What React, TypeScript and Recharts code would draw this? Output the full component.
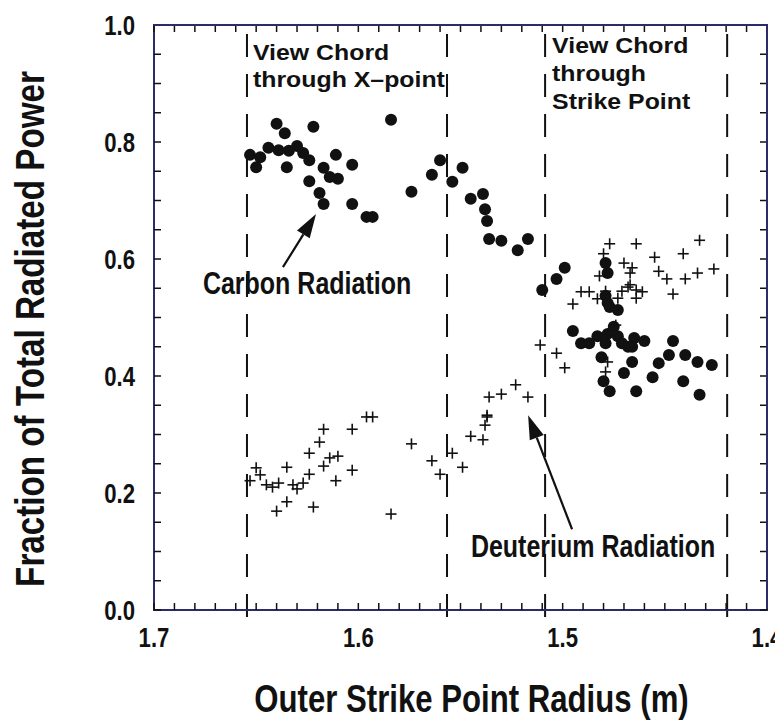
import {
  ScatterChart,
  Scatter,
  XAxis,
  YAxis,
  ReferenceLine,
  ReferenceArea,
  ReferenceDot,
  Label,
} from "recharts";

// outer strike point radius (m) / fraction of total radiated power
const carbonR = [
  1.653, 1.65, 1.648, 1.644, 1.64, 1.639, 1.636, 1.635, 1.634, 1.63, 1.627, 1.624, 1.622, 1.624, 1.619,
  1.617, 1.617, 1.614, 1.611, 1.61, 1.603, 1.603, 1.596, 1.593, 1.584, 1.574, 1.564, 1.56, 1.554, 1.549,
  1.545, 1.539, 1.538, 1.537, 1.536, 1.53, 1.522, 1.517, 1.51, 1.503, 1.499, 1.479, 1.478, 1.479, 1.478,
  1.477, 1.473, 1.495, 1.491, 1.487, 1.483, 1.479, 1.478, 1.475, 1.473, 1.471, 1.468, 1.465, 1.46, 1.466,
  1.481, 1.466, 1.47, 1.48, 1.477, 1.464, 1.453, 1.448, 1.446, 1.456, 1.44, 1.441, 1.434, 1.433, 1.427,
];
const carbonFrac = [
  0.778, 0.757, 0.774, 0.79, 0.831, 0.786, 0.815, 0.757, 0.785, 0.793, 0.781, 0.769, 0.826, 0.733, 0.713,
  0.756, 0.694, 0.74, 0.778, 0.737, 0.761, 0.694, 0.672, 0.672, 0.838, 0.715, 0.744, 0.769, 0.732, 0.756,
  0.703, 0.711, 0.685, 0.665, 0.634, 0.631, 0.615, 0.634, 0.547, 0.566, 0.585, 0.593, 0.576, 0.537, 0.525,
  0.518, 0.513, 0.477, 0.456, 0.456, 0.468, 0.456, 0.472, 0.484, 0.468, 0.456, 0.45, 0.465, 0.46, 0.45,
  0.432, 0.424, 0.405, 0.391, 0.374, 0.374, 0.422, 0.436, 0.46, 0.398, 0.436, 0.391, 0.424, 0.368, 0.419,
];
const deutR = [
  1.653, 1.65, 1.648, 1.645, 1.642, 1.639, 1.635, 1.64, 1.635, 1.632, 1.63, 1.627, 1.624, 1.624, 1.622,
  1.619, 1.617, 1.617, 1.614, 1.61, 1.611, 1.603, 1.603, 1.596, 1.593, 1.584, 1.574, 1.564, 1.56, 1.554,
  1.549, 1.545, 1.539, 1.538, 1.537, 1.537, 1.536, 1.53, 1.523, 1.517, 1.511, 1.503, 1.499, 1.478, 1.479,
  1.474, 1.477, 1.464, 1.433, 1.48, 1.455, 1.441, 1.47, 1.466, 1.453, 1.467, 1.482, 1.449, 1.44, 1.434,
  1.426, 1.491, 1.487, 1.479, 1.471, 1.468, 1.467, 1.464, 1.461, 1.483, 1.473, 1.464, 1.446, 1.495,
];
const deutFrac = [
  0.221, 0.243, 0.231, 0.214, 0.21, 0.217, 0.244, 0.169, 0.185, 0.214, 0.207, 0.217, 0.232, 0.268, 0.176,
  0.287, 0.246, 0.309, 0.26, 0.263, 0.221, 0.239, 0.309, 0.33, 0.33, 0.164, 0.284, 0.255, 0.232, 0.268,
  0.244, 0.297, 0.291, 0.316, 0.333, 0.33, 0.364, 0.369, 0.385, 0.364, 0.453, 0.439, 0.414, 0.424, 0.407,
  0.487, 0.626, 0.626, 0.632, 0.609, 0.603, 0.609, 0.593, 0.585, 0.579, 0.576, 0.571, 0.566, 0.566, 0.576,
  0.583, 0.544, 0.544, 0.545, 0.545, 0.552, 0.556, 0.547, 0.544, 0.532, 0.533, 0.533, 0.54, 0.523,
];

const xTicks = [
  1.4, 1.41, 1.42, 1.43, 1.44, 1.45, 1.46, 1.47, 1.48, 1.49, 1.5, 1.51, 1.52, 1.53, 1.54, 1.55,
  1.56, 1.57, 1.58, 1.59, 1.6, 1.61, 1.62, 1.63, 1.64, 1.65, 1.66, 1.67, 1.68, 1.69, 1.7,
];
const yTicks = [
  0, 0.05, 0.1, 0.15, 0.2, 0.25, 0.3, 0.35, 0.4, 0.45, 0.5, 0.55, 0.6, 0.65, 0.7, 0.75, 0.8, 0.85,
  0.9, 0.95, 1.0,
];
const xLabels = [1.4, 1.5, 1.6, 1.7];
const yLabels = [0, 0.2, 0.4, 0.6, 0.8, 1.0];

// view chord positions (m)
const chords = [1.6545, 1.5566, 1.5086, 1.4195];

const carbon = carbonR.map((r, i) => ({ r, frac: carbonFrac[i] }));
const deuterium = deutR.map((r, i) => ({ r, frac: deutFrac[i] }));

const FONT = "'Liberation Sans', Arial, Helvetica, sans-serif";
const INK = "#111";
const FRAME = "#2c2c6a";

const W = 775;
const H = 720;
const MARGIN = { top: 17, right: 16, left: 0, bottom: 0 };
const Y_AXIS_W = 146;
const X_AXIS_H = 118;
const PLOT_W = W - MARGIN.right - Y_AXIS_W;
const PLOT_H = H - MARGIN.top - X_AXIS_H;

const near = (a: number, b: number) => Math.abs(a - b) < 1e-6;
const findLabel = (list: number[], v: number) => list.find((t) => near(t, v));

// bold text squeezed/stretched horizontally (no condensed face installed)
function SText({
  x,
  y,
  size,
  sx = 0.82,
  anchor = "start",
  rotate = 0,
  children,
}: {
  x: number;
  y: number;
  size: number;
  sx?: number;
  anchor?: "start" | "middle" | "end";
  rotate?: number;
  children: any;
}) {
  return (
    <text
      transform={`translate(${x},${y}) rotate(${rotate}) scale(${sx},1)`}
      x={0}
      y={0}
      textAnchor={anchor}
      fontFamily={FONT}
      fontWeight="bold"
      fontSize={size}
      fill={INK}
    >
      {children}
    </text>
  );
}

// bottom tick plus its mirror on the top edge
const BottomTick = (p: any) => {
  const { x, y, payload } = p;
  const lab = findLabel(xLabels, payload.value);
  const top = y - PLOT_H;
  return (
    <g>
      <line x1={x} y1={y} x2={x} y2={y - 7} stroke={INK} strokeWidth={1.5} />
      <line x1={x} y1={top} x2={x} y2={top + 7} stroke={INK} strokeWidth={1.5} />
      {lab !== undefined && (
        <SText x={x} y={y + 37} size={27} anchor="middle">
          {lab.toFixed(1)}
        </SText>
      )}
    </g>
  );
};

// left tick plus its mirror on the right edge
const LeftTick = (p: any) => {
  const { x, y, payload } = p;
  const lab = findLabel(yLabels, payload.value);
  const right = x + PLOT_W;
  return (
    <g>
      <line x1={x} y1={y} x2={x + 7} y2={y} stroke={INK} strokeWidth={1.5} />
      <line x1={right} y1={y} x2={right - 7} y2={y} stroke={INK} strokeWidth={1.5} />
      {lab !== undefined && (
        <SText x={x - 19} y={y + 9.5} size={27} anchor="end">
          {lab.toFixed(1)}
        </SText>
      )}
    </g>
  );
};

const Dot = (p: any) => <circle cx={p.cx} cy={p.cy} r={6} fill={INK} />;

const Cross = (p: any) => (
  <g stroke={INK} strokeWidth={1.6}>
    <line x1={p.cx - 5.5} y1={p.cy} x2={p.cx + 5.5} y2={p.cy} />
    <line x1={p.cx} y1={p.cy - 5.5} x2={p.cx} y2={p.cy + 5.5} />
  </g>
);

const Arrow = (p: any) => {
  const { x1, y1, x2, y2 } = p;
  const len = Math.hypot(x2 - x1, y2 - y1);
  const ux = (x2 - x1) / len;
  const uy = (y2 - y1) / len;
  const hl = 24;
  const hw = 7.5;
  const bx = x2 - ux * hl;
  const by = y2 - uy * hl;
  return (
    <g>
      <line x1={x1} y1={y1} x2={bx} y2={by} stroke={INK} strokeWidth={2.2} />
      <polygon
        points={`${x2},${y2} ${bx - uy * hw},${by + ux * hw} ${bx + uy * hw},${by - ux * hw}`}
        fill={INK}
      />
    </g>
  );
};

const textBlock = (lines: string[], dx: number, lead: number) => (p: any) => (
  <g>
    {lines.map((l, i) => (
      <SText key={i} x={p.cx + dx} y={p.cy + i * lead} size={22} sx={1.13}>
        {l}
      </SText>
    ))}
  </g>
);

const seriesLabel = (txt: string) => (p: any) => (
  <SText x={p.cx} y={p.cy} size={30.5} anchor="middle">
    {txt}
  </SText>
);

export default function App() {
  return (
    <div style={{ position: "relative", width: W, height: H }}>
      <ScatterChart width={W} height={H} margin={MARGIN}>
        <XAxis
          type="number"
          dataKey="r"
          domain={[1.4, 1.7]}
          reversed
          ticks={xTicks}
          interval={0}
          tickSize={0}
          tickMargin={0}
          tickLine={false}
          tick={BottomTick}
          axisLine={{ stroke: FRAME, strokeWidth: 2 }}
          height={X_AXIS_H}
          allowDataOverflow
        >
          <Label content={() => <SText x={463.5} y={704} size={38} anchor="middle">Outer Strike Point Radius (m)</SText>} />
        </XAxis>
        <YAxis
          type="number"
          dataKey="frac"
          domain={[0, 1]}
          ticks={yTicks}
          interval={0}
          tickSize={0}
          tickMargin={0}
          tickLine={false}
          tick={LeftTick}
          axisLine={{ stroke: FRAME, strokeWidth: 2 }}
          width={Y_AXIS_W}
          allowDataOverflow
        >
          <Label
            content={() => (
              <SText x={36} y={321} size={40} sx={0.83} anchor="middle" rotate={-90}>
                Fraction of Total Radiated Power
              </SText>
            )}
          />
        </YAxis>

        {/* plot frame as an unfilled area over the whole domain */}
        <ReferenceArea
          x1={1.7}
          x2={1.4}
          y1={0}
          y2={1}
          fill="none"
          fillOpacity={0}
          stroke={FRAME}
          strokeWidth={2}
          ifOverflow="visible"
        />

        {chords.map((c) => (
          <ReferenceLine
            key={c}
            segment={[
              { x: c, y: -0.012 },
              { x: c, y: 1.0 },
            ]}
            stroke={INK}
            strokeWidth={2}
            strokeDasharray="23 17"
            ifOverflow="visible"
          />
        ))}

        <ReferenceLine
          segment={[
            { x: 1.6369, y: 0.586 },
            { x: 1.6207, y: 0.677 },
          ]}
          shape={Arrow}
          ifOverflow="visible"
        />
        <ReferenceLine
          segment={[
            { x: 1.4954, y: 0.138 },
            { x: 1.5169, y: 0.333 },
          ]}
          shape={Arrow}
          ifOverflow="visible"
        />

        <ReferenceDot
          x={1.6545}
          y={0.94}
          r={0}
          ifOverflow="visible"
          shape={textBlock(["View Chord", "through X\u2013point"], 6, 27)}
        />
        <ReferenceDot
          x={1.5086}
          y={0.952}
          r={0}
          ifOverflow="visible"
          shape={textBlock(["View Chord", "through", "Strike Point"], 7, 28)}
        />
        <ReferenceDot x={1.6251} y={0.54} r={0} ifOverflow="visible" shape={seriesLabel("Carbon Radiation")} />
        <ReferenceDot x={1.4851} y={0.0906} r={0} ifOverflow="visible" shape={seriesLabel("Deuterium Radiation")} />

        <Scatter name="Carbon Radiation" data={carbon} shape={Dot} isAnimationActive={false} />
        <Scatter name="Deuterium Radiation" data={deuterium} shape={Cross} isAnimationActive={false} />
      </ScatterChart>
      {/* frame edges again as plain borders, in case the svg lines are hidden */}
      <div
        style={{
          position: "absolute",
          left: Y_AXIS_W,
          top: MARGIN.top - 1,
          width: PLOT_W + 1,
          height: PLOT_H,
          borderTop: `2px solid ${FRAME}`,
          borderRight: `2px solid ${FRAME}`,
          boxSizing: "border-box",
          pointerEvents: "none",
        }}
      />
    </div>
  );
}
